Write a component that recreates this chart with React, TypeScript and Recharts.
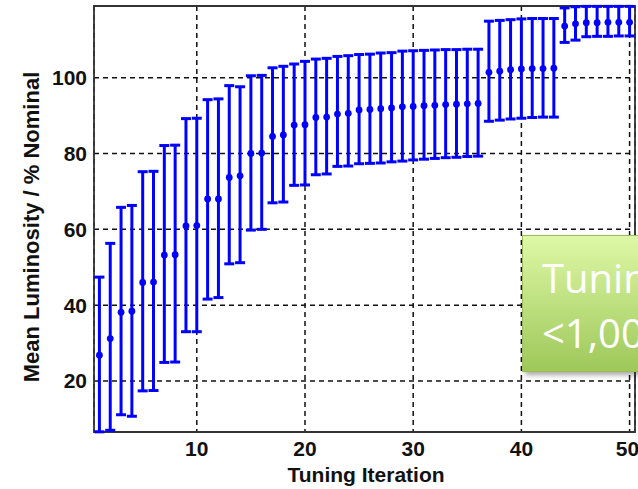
import React from "react"
import {
  CartesianGrid,
  ComposedChart,
  ErrorBar,
  ReferenceArea,
  Scatter,
  XAxis,
  YAxis
} from "recharts"

// tuning iteration number
const iterations = Array.from({ length: 50 }, (_, i) => i + 1)

// mean luminosity (% nominal) per iteration
const means = [
  26.8, 31.2, 38.1, 38.4, 46.0, 46.1, 53.2, 53.3, 60.9, 61.0,
  68.0, 68.0, 73.7, 74.1, 80.0, 80.1, 84.5, 84.9, 87.5, 87.6,
  89.5, 89.6, 90.4, 90.6, 91.5, 91.6, 91.8, 92.0, 92.3, 92.4,
  92.6, 92.7, 92.9, 93.0, 93.1, 93.2, 101.4, 101.7, 102.1, 102.3,
  102.4, 102.4, 102.5, 113.6, 114.2, 114.5, 114.5, 114.6, 114.6, 114.6
]

// top of error bar
const highs = [
  47.4, 56.3, 65.8, 66.3, 75.2, 75.3, 82.1, 82.2, 89.2, 89.3,
  94.2, 94.4, 97.9, 97.6, 100.5, 100.6, 102.6, 103.0, 103.6, 104.3,
  104.9, 105.1, 105.6, 105.8, 106.1, 106.2, 106.5, 106.6, 107.0, 107.1,
  107.2, 107.3, 107.4, 107.4, 107.5, 107.5, 114.9, 115.1, 115.3, 115.5,
  115.6, 115.6, 115.6, 118.4, 118.7, 118.8, 118.8, 118.8, 118.8, 118.8
]

// bottom of error bar
const lows = [
  6.6, 7.0, 11.1, 10.7, 17.4, 17.5, 24.9, 25.0, 33.0, 33.0,
  41.6, 42.0, 50.9, 51.2, 59.8, 60.0, 67.0, 67.2, 71.6, 71.7,
  74.4, 74.6, 76.6, 76.7, 77.3, 77.4, 77.5, 77.8, 78.0, 78.3,
  78.5, 78.7, 78.9, 79.0, 79.2, 79.3, 88.5, 88.8, 89.1, 89.3,
  89.5, 89.6, 89.6, 109.3, 109.9, 110.8, 110.9, 110.9, 111.0, 111.0
]

const xTicks = [10, 20, 30, 40, 50]
const yTicks = [20, 40, 60, 80, 100]

const data = iterations.map((it, i) => ({
  iter: it,
  mean: means[i],
  err: [means[i] - lows[i], highs[i] - means[i]]
}))

const BLUE = "#0000ff"
const FONT = "'Liberation Sans', Arial, sans-serif"
const tickStyle = { fontFamily: FONT, fontWeight: 700, fontSize: 21, fill: "#111" }

const Dot = (p: any) => <circle cx={p.cx} cy={p.cy} r={3.4} fill={BLUE} />

export default function App() {
  return (
    <div
      style={{
        position: "fixed",
        left: 0,
        top: 0,
        width: 638,
        height: 489,
        overflow: "hidden",
        background: "#fff"
      }}
    >
      <ComposedChart
        width={638}
        height={489}
        data={data}
        margin={{ top: 6, right: 3, bottom: 0, left: 0 }}
      >
        <CartesianGrid
          stroke="#111"
          strokeDasharray="5 4"
          strokeWidth={1.5}
        />
        <XAxis
          dataKey="iter"
          type="number"
          domain={[0.5, 50.5]}
          ticks={xTicks}
          allowDataOverflow
          height={57}
          axisLine={false}
          tickLine={false}
          tickSize={0}
          tickMargin={9}
          tick={tickStyle}
          label={{
            content: () => (
              <text
                x={366}
                y={482}
                textAnchor="middle"
                style={{ fontFamily: FONT, fontWeight: 700, fontSize: 21, fill: "#111" }}
              >
                Tuning Iteration
              </text>
            )
          }}
        />
        <YAxis
          type="number"
          domain={[6.55, 118.9]}
          ticks={yTicks}
          allowDataOverflow
          width={94}
          axisLine={false}
          tickLine={false}
          tickSize={0}
          tickMargin={7}
          tick={tickStyle}
          label={{
            content: () => (
              <text
                x={39}
                y={227}
                transform="rotate(-90 39 227)"
                textAnchor="middle"
                style={{ fontFamily: FONT, fontWeight: 700, fontSize: 22, fill: "#111" }}
              >
                Mean Luminosity / % Nominal
              </text>
            )
          }}
        />
        <ReferenceArea
          x1={0.5}
          x2={50.5}
          y1={6.55}
          y2={118.9}
          fill="none"
          stroke="#333"
          strokeWidth={1.8}
          ifOverflow="visible"
        />
        <Scatter
          dataKey="mean"
          fill={BLUE}
          shape={Dot}
          isAnimationActive={false}
        >
          <ErrorBar
            dataKey="err"
            direction="y"
            width={5}
            stroke={BLUE}
            strokeWidth={3}
            isAnimationActive={false}
          />
        </Scatter>
      </ComposedChart>
      <div
        style={{
          position: "absolute",
          left: 522,
          top: 235,
          width: 200,
          height: 137,
          boxSizing: "border-box",
          border: "1.5px solid #9bbb59",
          background: "linear-gradient(#def8a6, #9ec85a)",
          boxShadow: "3px 3px 5px rgba(0,0,0,0.35)",
          color: "#fff",
          fontFamily: "'Open Sans', sans-serif",
          fontSize: 40,
          lineHeight: "55px",
          paddingLeft: 19,
          paddingTop: 14,
          whiteSpace: "nowrap"
        }}
      >
        <div>Tuning</div>
        <div>&lt;1,000</div>
      </div>
    </div>
  )
}
